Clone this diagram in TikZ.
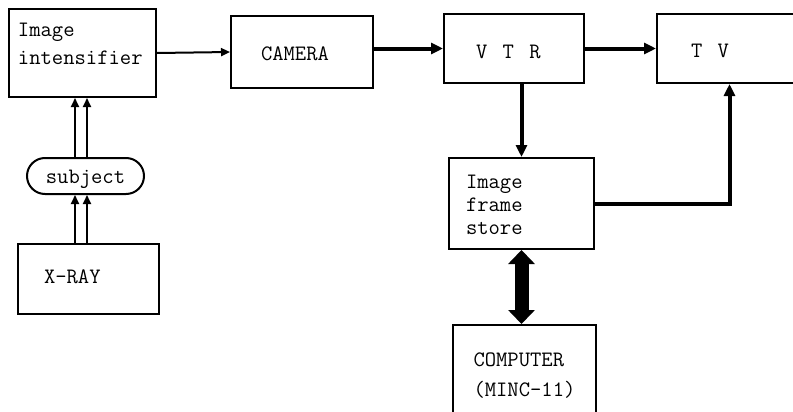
\documentclass[tikz,border=0pt]{standalone}
\usetikzlibrary{arrows.meta}

\tikzset{
  module/.style={draw, line width=1pt, anchor=north west, align=left, inner ysep=0pt,
    font=\fontsize{11}{14}\selectfont\ttfamily},
  pill/.style={draw, line width=1pt, rounded corners=9pt, anchor=north west, align=center,
    inner xsep=0pt, inner ysep=0pt, font=\fontsize{11}{14}\selectfont\ttfamily},
  flow/.style={line width=1pt, -{Triangle[length=4.5pt,width=4pt]}},
  bus/.style={line width=2pt, -{Triangle[length=6pt,width=5.5pt]}},
  duplex/.style={line width=7pt, {Triangle[length=7pt,width=13pt]}-{Triangle[length=7pt,width=13pt]}},
}

\begin{document}
\begin{tikzpicture}[x=0.5pt,y=-0.5pt]
	\useasboundingbox (0,0) rectangle (793,412);

	% units, placed by their top left corners
	\node[module, text width=64.5pt, inner xsep=4.5pt, text height=13.5pt, text depth=30.5pt] (intens) at (8,8) {Image\\intensifier};
	\node[module, text width=41pt, inner xsep=15pt, text height=22.5pt, text depth=13.5pt] (camera) at (230,15) {CAMERA};
	\node[module, text width=38pt, inner xsep=16pt, text height=22pt, text depth=12.5pt] (vtr) at (443,13) {V\hspace{7.7pt}T\hspace{7.7pt}R};
	\node[module, text width=38.5pt, inner xsep=17pt, text height=21.5pt, text depth=13pt] (tv) at (656,13) {T\hspace{7.7pt}V};
	\node[module, font=\fontsize{11}{11.5}\selectfont\ttfamily, text width=55.5pt, inner xsep=8.5pt, text height=15pt, text depth=30.5pt] (store) at (448,157) {Image\\frame\\store};
	\node[module, font=\fontsize{11}{15}\selectfont\ttfamily, text width=55pt, inner xsep=8.25pt, text height=20.5pt, text depth=27.5pt] (comp) at (452,324) {\hspace*{2pt}COMPUTER\\\hspace*{2pt}(MINC-11)};
	\node[pill, text width=58.5pt, text height=12.5pt, text depth=5.5pt] (subject) at (26,157) {subject};
	\node[module, text width=44.5pt, inner xsep=13pt, text height=19.5pt, text depth=15.5pt] (xray) at (17,243) {X-RAY};

	% signal path
	\draw[flow] (intens.east) -- (camera.west);
	\draw[bus] (camera.east |- vtr.west) -- (vtr.west);
	\draw[bus] (vtr.east) -- (tv.west);
	\draw[bus] (store.north |- vtr.south) -- (store.north);
	\draw[bus] (store.east) -| (tv.south);
	\draw[duplex] (store.south) -- (store.south |- comp.north);

	% x-ray beams
	\foreach \dx in {-5.25,0.75}{
		\draw[flow] ([xshift=\dx pt]subject.north) -- ([xshift=\dx pt]subject.north |- intens.south);
		\draw[flow] ([xshift=\dx pt]subject.south |- xray.north) -- ([xshift=\dx pt]subject.south);
	}
\end{tikzpicture}
\end{document}
